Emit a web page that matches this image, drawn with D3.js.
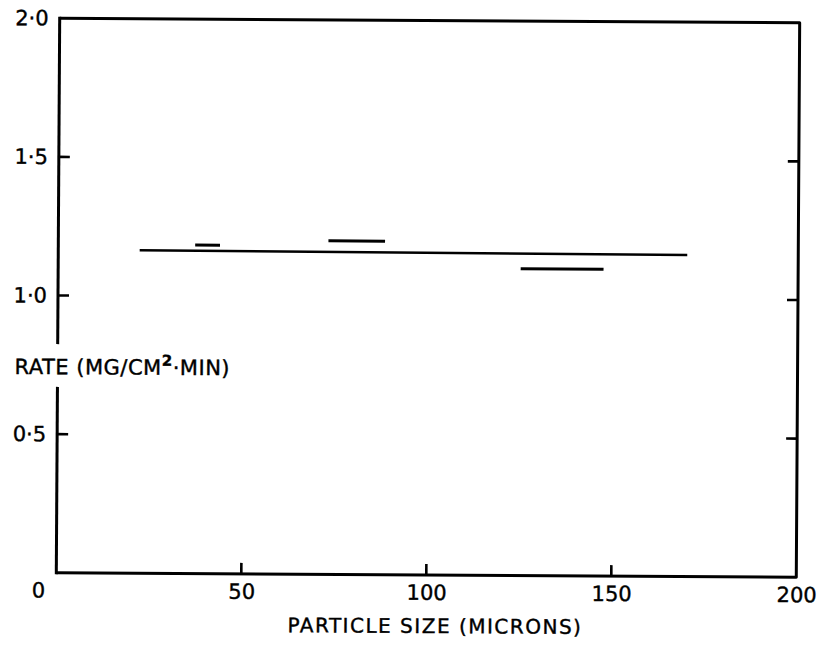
<!DOCTYPE html>
<html>
<head>
<meta charset="utf-8">
<script src="https://cdn.jsdelivr.net/npm/d3@7"></script>
<style>
  body { margin: 0; background: #fff; }
  svg { display: block; }
</style>
</head>
<body>
<script>
var w = 825, h = 649;

// fitted line through all runs
var fitSize = [22, 170];
var fitRate = [1.165, 1.160];

// individual size fractions (start, end, rate)
var segStart = [37, 73, 125];
var segEnd = [43.7, 88.3, 147.4];
var segRate = [1.185, 1.203, 1.107];

var xTicks = [50, 100, 150, 200];
var yTicks = [0.5, 1.0, 1.5, 2.0];
var innerY = [0.5, 1.0, 1.5];
var innerX = [50, 100, 150];
var yGap = [0.665, 0.83]; // left axis broken around its label

var x = d3.scaleLinear().domain([0, 200]).range([58, 798]);
var y = d3.scaleLinear().domain([0, 2]).range([575, 20.5]);

var font = "'DejaVu Sans', sans-serif";
var dotFmt = function(d) { return d3.format('.1f')(d).replace('.', '\u00b7'); };

var svg = d3.select('body').append('svg')
    .attr('width', w)
    .attr('height', h);

// the scan is slightly turned
var g = svg.append('g')
    .attr('transform', 'rotate(0.35,427,296)');

// frame: top, right, bottom
var frame = d3.path();
frame.moveTo(x(0), y(2));
frame.lineTo(x(200), y(2));
frame.lineTo(x(200), y(0));
frame.lineTo(x(0), y(0));
g.append('path')
    .attr('d', frame.toString())
    .attr('fill', 'none')
    .attr('stroke', '#000')
    .attr('stroke-width', 3)
    .attr('stroke-linejoin', 'round');

// left axis line in two pieces
var leftParts = [[0, yGap[0]], [yGap[1], 2]];
g.selectAll('line.left')
    .data(leftParts)
    .enter()
    .append('line')
    .attr('class', 'left')
    .attr('x1', x(0)).attr('x2', x(0))
    .attr('y1', d => y(d[0]))
    .attr('y2', d => y(d[1]))
    .attr('stroke', '#000')
    .attr('stroke-width', 3)
    .attr('stroke-linecap', 'square');

// inward ticks: left, right, bottom
var tickSegs = innerY.map(v => ({x1: x(0), x2: x(0) + 11, y1: y(v), y2: y(v)}))
    .concat(innerY.map(v => ({x1: x(200), x2: x(200) - 11, y1: y(v), y2: y(v)})))
    .concat(innerX.map(v => ({x1: x(v), x2: x(v), y1: y(0), y2: y(0) - 11})));
g.selectAll('line.tk')
    .data(tickSegs)
    .enter()
    .append('line')
    .attr('class', 'tk')
    .attr('x1', d => d.x1).attr('x2', d => d.x2)
    .attr('y1', d => d.y1).attr('y2', d => d.y2)
    .attr('stroke', '#000')
    .attr('stroke-width', 2.6);

// tick labels
g.append('g')
    .attr('class', 'lab')
    .attr('transform', 'translate(0,' + y(0) + ')')
    .call(d3.axisBottom(x).tickValues(xTicks).tickSize(0).tickPadding(10))
    .select('.domain').remove();
g.append('g')
    .attr('class', 'lab')
    .attr('transform', 'translate(' + x(0) + ',0)')
    .call(d3.axisLeft(y).tickValues(yTicks).tickFormat(dotFmt).tickSize(0).tickPadding(11))
    .select('.domain').remove();

g.selectAll('.lab .tick text')
    .attr('font-family', font)
    .attr('font-size', 21)
    .attr('fill', '#000')
    .attr('stroke', '#000')
    .attr('stroke-width', 0.4);

// zero at the corner
g.append('text')
    .attr('x', x(0) - 11)
    .attr('y', y(0) + 10)
    .attr('dy', '0.71em')
    .attr('text-anchor', 'end')
    .attr('font-family', font)
    .attr('font-size', 21)
    .attr('stroke', '#000')
    .attr('stroke-width', 0.4)
    .text('0');

// fitted line
var fit = fitSize.map((s, i) => [s, fitRate[i]]);
g.append('path')
    .datum(fit)
    .attr('d', d3.line().x(d => x(d[0])).y(d => y(d[1])))
    .attr('fill', 'none')
    .attr('stroke', '#000')
    .attr('stroke-width', 2.6);

// fraction bars
g.selectAll('line.seg')
    .data(segRate)
    .enter()
    .append('line')
    .attr('class', 'seg')
    .attr('x1', (d, i) => x(segStart[i]))
    .attr('x2', (d, i) => x(segEnd[i]))
    .attr('y1', d => y(d))
    .attr('y2', d => y(d))
    .attr('stroke', '#000')
    .attr('stroke-width', 3);

// axis titles
var yt = g.append('text')
    .attr('x', 15)
    .attr('y', y(0.745) + 8)
    .attr('font-family', font)
    .attr('font-size', 21)
    .attr('letter-spacing', 0.5)
    .attr('stroke', '#000')
    .attr('stroke-width', 0.4);
yt.append('tspan').text('RATE (MG/CM');
yt.append('tspan').attr('dy', -9).attr('font-size', 15).attr('font-weight', 'bold').text('2');
yt.append('tspan').attr('dy', 9).text('\u00b7MIN)');

g.append('text')
    .attr('x', 437)
    .attr('y', 633)
    .attr('text-anchor', 'middle')
    .attr('font-family', font)
    .attr('font-size', 20)
    .attr('letter-spacing', 1.5)
    .attr('stroke', '#000')
    .attr('stroke-width', 0.4)
    .text('PARTICLE SIZE (MICRONS)');
</script>
</body>
</html>
